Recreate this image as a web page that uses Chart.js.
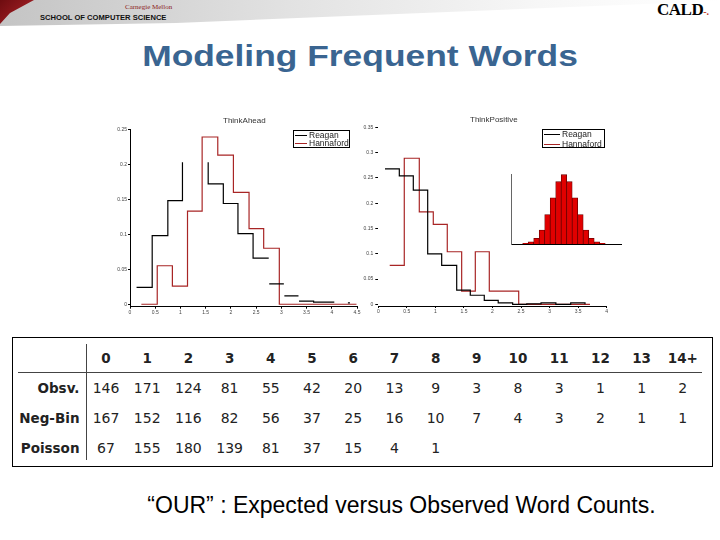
<!DOCTYPE html>
<html>
<head>
<meta charset="utf-8">
<title>Modeling Frequent Words</title>
<script src="https://cdn.jsdelivr.net/npm/chart.js@4.4.1/dist/chart.umd.min.js"></script>
<style>
  html, body { margin: 0; padding: 0; background: #fff; }
  #slide { position: relative; width: 720px; height: 540px; overflow: hidden; font-family: "Liberation Sans", Arial, sans-serif; }
  .abs { position: absolute; }
  canvas { position: absolute; }
  #band { left: 0; top: 0; width: 720px; height: 26px; background: linear-gradient(to right, #c4c4c4, #e2e2e2 40%, #f7f7f7 75%, #fff); clip-path: polygon(0 0, 720px 0, 720px 1px, 176px 23px, 0 26px); }
  #swoosh { left: 0; top: 0; width: 34px; height: 26px; background: linear-gradient(135deg, #6e0c10, #b3262b); clip-path: polygon(0 0, 34px 0, 10px 13px, 0 24px); }
  #cmu { left: 125px; top: 3px; font: 7px "Liberation Serif", serif; color: #8c1c1c; white-space: nowrap; }
  #scs { left: 40px; top: 13px; font: bold 7.6px "Liberation Sans", Arial, sans-serif; color: #111; white-space: nowrap; }
  #cald { left: 657px; top: 0px; font: bold 17px "Liberation Serif", serif; color: #000; letter-spacing: -0.5px; white-space: nowrap; }
  #cald span { color: #c0392b; font-size: 10px; letter-spacing: 0; }
  #title { left: 0; width: 720px; top: 40px; line-height: 34px; text-align: center; font: bold 29px "Liberation Sans", Arial, sans-serif; color: #3a6591; transform: scaleX(1.22); }
  .ctitle { font: 8px "Liberation Sans", Arial, sans-serif; color: #333; white-space: nowrap; }
  .legend { position: absolute; border: 1px solid #000; background: #fff; box-sizing: border-box; font: 8.5px "Liberation Sans", Arial, sans-serif; color: #222; }
  .lrow { position: absolute; left: 1px; height: 8px; line-height: 8px; white-space: nowrap; }
  .lrow i { display: inline-block; height: 1px; vertical-align: middle; margin-right: 2px; }
  #tbl { left: 12px; top: 337px; width: 701px; height: 130px; border: 1px solid #000; box-sizing: border-box; }
  .cell { position: absolute; height: 18px; line-height: 18px; font: 14px "DejaVu Sans", Verdana, sans-serif; color: #222; text-align: center; white-space: nowrap; }
  .bold { font-weight: bold; font-size: 13.5px; }
  #caption { left: 0; width: 803px; top: 492px; line-height: 26px; text-align: center; font: 23px "Liberation Sans", Arial, sans-serif; color: #000; white-space: nowrap; }
</style>
</head>
<body>
<div id="slide">
  <div id="band" class="abs"></div>
  <div id="swoosh" class="abs"></div>
  <div id="cmu" class="abs">Carnegie Mellon</div>
  <div id="scs" class="abs">SCHOOL OF COMPUTER SCIENCE</div>
  <div id="cald" class="abs">CALD<span>-.</span></div>
  <div id="title" class="abs">Modeling Frequent Words</div>

  <canvas id="ahead" width="265" height="210" style="left:100px; top:112px;"></canvas>
  <canvas id="positive" width="265" height="210" style="left:355px; top:112px;"></canvas>
  <canvas id="inset" width="122" height="80" style="left:505px; top:168px;"></canvas>

  <div class="abs ctitle" style="left:223px; top:116px;">ThinkAhead</div>
  <div class="abs ctitle" style="left:470px; top:115px;">ThinkPositive</div>

  <div class="legend" style="left:293px; top:130px; width:57px; height:18px;">
    <div class="lrow" style="top:0px"><i style="width:12px; background:#000"></i>Reagan</div>
    <div class="lrow" style="top:8px"><i style="width:12px; background:#a82525"></i>Hannaford</div>
  </div>
  <div class="legend" style="left:542px; top:129px; width:63px; height:19px;">
    <div class="lrow" style="top:0px"><i style="width:16px; background:#000"></i>Reagan</div>
    <div class="lrow" style="top:9.5px"><i style="width:16px; background:#a82525"></i>Hannaford</div>
  </div>

  <div id="tbl" class="abs"></div>
  <div id="caption" class="abs">“OUR” : Expected versus Observed Word Counts.</div>
</div>

<script>
(function () {
    // ThinkAhead: step corners (x) and heights (y); a null height breaks the line
    var aheadReaganX = [0.13, 0.44, 0.75, 1.04, 1.3, 1.55, 1.55, 1.85, 2.14, 2.44, 2.75, 2.755, 2.76, 3.05, 3.055, 3.06, 3.34, 3.345, 3.35, 3.64, 4.05, 4.2, 4.32, 4.36];
    var aheadReaganY = [0.024, 0.098, 0.148, 0.203, null, 0.203, 0.172, 0.144, 0.101, 0.066, 0.066, null, 0.029, 0.029, null, 0.012, 0.012, null, 0.0045, 0.003, 0.003, null, 0.002, 0.002];
    var aheadHannafordX = [0.225, 0.54, 0.84, 1.14, 1.43, 1.74, 2.05, 2.36, 2.65, 2.96, 4.49];
    var aheadHannafordY = [0, 0.055, 0.026, 0.133, 0.239, 0.213, 0.160, 0.108, 0.080, 0, 0];

    // ThinkPositive
    var positiveReaganX = [0.117, 0.368, 0.613, 0.865, 1.11, 1.373, 1.611, 1.856, 2.1, 2.353, 2.6, 2.85, 3.11, 3.37, 3.62, 3.62];
    var positiveReaganY = [0.268, 0.254, 0.226, 0.100, 0.077, 0.028, 0.018, 0.008, 0.003, 0, 0.001, 0.003, 0, 0.003, 0.003, 0];
    var positiveHannafordX = [0.2, 0.455, 0.718, 0.963, 1.208, 1.46, 1.699, 1.944, 2.459, 3.707];
    var positiveHannafordY = [0.077, 0.289, 0.183, 0.158, 0.104, 0.026, 0.104, 0.026, 0, 0];

    // tick values
    var aheadXTicks = [0, 0.5, 1, 1.5, 2, 2.5, 3, 3.5, 4, 4.5];
    var aheadYTicks = [0, 0.05, 0.1, 0.15, 0.2, 0.25];
    var positiveXTicks = [0, 0.5, 1, 1.5, 2, 2.5, 3, 3.5, 4];
    var positiveYTicks = [0, 0.05, 0.1, 0.15, 0.2, 0.25, 0.3, 0.35];

    // inset histogram (relative heights)
    var insetHeights = [1, 3, 8, 20, 42, 66, 89, 99, 89, 66, 42, 20, 8, 3, 1];

    // table
    var countLabels = ["0", "1", "2", "3", "4", "5", "6", "7", "8", "9", "10", "11", "12", "13", "14+"];
    var observed = [146, 171, 124, 81, 55, 42, 20, 13, 9, 3, 8, 3, 1, 1, 2];
    var negBin = [167, 152, 116, 82, 56, 37, 25, 16, 10, 7, 4, 3, 2, 1, 1];
    var poisson = [67, 155, 180, 139, 81, 37, 15, 4, 1];

    var BLACK = "#000000", RED = "#a82525";
    var tickFont = { size: 5, family: "'Liberation Sans', Arial, sans-serif" };

    function toPoints(xs, ys) {
        return xs.map(function (x, i) { return { x: x, y: ys[i] }; });
    }

    function stepSet(xs, ys, color) {
        return {
            data: toPoints(xs, ys),
            borderColor: color,
            borderWidth: 1.2,
            stepped: true,
            fill: false,
            pointRadius: 0,
            spanGaps: false
        };
    }

    function stepChart(id, datasets, cfg) {
        var ctx = document.getElementById(id).getContext("2d");
        return new Chart(ctx, {
            type: "line",
            data: { datasets: datasets },
            options: {
                responsive: false,
                animation: false,
                events: [],
                layout: { padding: cfg.padding },
                plugins: { legend: { display: false }, tooltip: { enabled: false } },
                scales: {
                    x: {
                        type: "linear", min: cfg.xMin, max: cfg.xMax,
                        afterBuildTicks: function (s) { s.ticks = cfg.xTicks.map(function (v) { return { value: v }; }); },
                        afterFit: function (s) { s.height = cfg.xHeight; s.paddingLeft = 0; s.paddingRight = 0; },
                        ticks: { font: tickFont, color: "#444", padding: 1, maxRotation: 0, autoSkip: false, callback: function (v) { return String(v); } },
                        grid: { drawOnChartArea: false, tickLength: 2, color: "#000" },
                        border: { color: "#000", width: 1 }
                    },
                    y: {
                        min: cfg.yMin, max: cfg.yMax,
                        afterBuildTicks: function (s) { s.ticks = cfg.yTicks.map(function (v) { return { value: v }; }); },
                        afterFit: function (s) { s.width = cfg.yWidth; s.paddingTop = 0; s.paddingBottom = 0; },
                        ticks: { font: tickFont, color: "#444", padding: cfg.yPad, autoSkip: false, callback: function (v) { return String(v); } },
                        grid: { drawOnChartArea: false, tickLength: cfg.yTick, color: "#000" },
                        border: { display: cfg.yBorder, color: "#000", width: 1 }
                    }
                }
            }
        });
    }

    stepChart("ahead", [
        stepSet(aheadReaganX, aheadReaganY, BLACK),
        stepSet(aheadHannafordX, aheadHannafordY, RED)
    ], {
        padding: { left: 0, top: 17.3, right: 8, bottom: 0 },
        xMin: 0, xMax: 4.5, xTicks: aheadXTicks, xHeight: 15.3,
        yMin: -0.0035, yMax: 0.25, yTicks: aheadYTicks, yWidth: 30,
        yTick: 2, yPad: 1, yBorder: true
    });

    stepChart("positive", [
        stepSet(positiveReaganX, positiveReaganY, BLACK),
        stepSet(positiveHannafordX, positiveHannafordY, RED)
    ], {
        padding: { left: 0, top: 15.4, right: 13.3, bottom: 0 },
        xMin: 0, xMax: 4, xTicks: positiveXTicks, xHeight: 16,
        yMin: -0.0033, yMax: 0.35, yTicks: positiveYTicks, yWidth: 23.3,
        yTick: 3, yPad: 2, yBorder: false
    });

    // inset: two empty slots before the bars and three after
    var insetData = [null, null].concat(insetHeights, [null, null, null]);
    new Chart(document.getElementById("inset").getContext("2d"), {
        type: "bar",
        data: {
            labels: insetData.map(function (_, i) { return String(i); }),
            datasets: [{
                data: insetData,
                backgroundColor: "#e10000",
                borderColor: "#6e0000",
                borderWidth: 0.8,
                barPercentage: 1,
                categoryPercentage: 1
            }]
        },
        options: {
            responsive: false,
            animation: false,
            events: [],
            layout: { padding: { left: 6.7, top: 6, right: 5.3, bottom: 4 } },
            plugins: { legend: { display: false }, tooltip: { enabled: false } },
            scales: {
                x: {
                    ticks: { display: false }, grid: { display: false },
                    border: { color: "#000", width: 1 },
                    afterFit: function (s) { s.height = 0; s.paddingLeft = 0; s.paddingRight = 0; }
                },
                y: {
                    min: 0, max: 100,
                    ticks: { display: false }, grid: { display: false },
                    border: { color: "#666", width: 1 },
                    afterFit: function (s) { s.width = 0; s.paddingTop = 0; s.paddingBottom = 0; }
                }
            }
        }
    });

    // table cells
    var slide = document.getElementById("slide");
    function cell(text, left, width, y, cls, align) {
        var d = document.createElement("div");
        d.className = "cell" + (cls ? " " + cls : "");
        d.style.left = left + "px";
        d.style.width = width + "px";
        d.style.top = (y - 9) + "px";
        if (align) d.style.textAlign = align;
        d.textContent = text;
        slide.appendChild(d);
    }
    function line(left, top, w, h, color) {
        var d = document.createElement("div");
        d.className = "abs";
        d.style.cssText += "left:" + left + "px;top:" + top + "px;width:" + w + "px;height:" + h + "px;background:" + color;
        slide.appendChild(d);
    }

    var rowY = [359.3, 389.3, 419.3, 449];
    var rows = [["Obsv.", observed], ["Neg-Bin", negBin], ["Poisson", poisson]];
    countLabels.forEach(function (lab, i) {
        cell(lab, 106 + 41.2 * i - 22, 44, rowY[0], "bold");
    });
    rows.forEach(function (r, k) {
        cell(r[0], 0, 79.5, rowY[k + 1], "bold", "right");
        r[1].forEach(function (v, i) {
            cell(String(v), 106 + 41.2 * i - 22, 44, rowY[k + 1]);
        });
    });
    line(18, 372, 684, 1, "#444");
    line(86, 344, 1, 116, "#444");
})();
</script>
</body>
</html>
